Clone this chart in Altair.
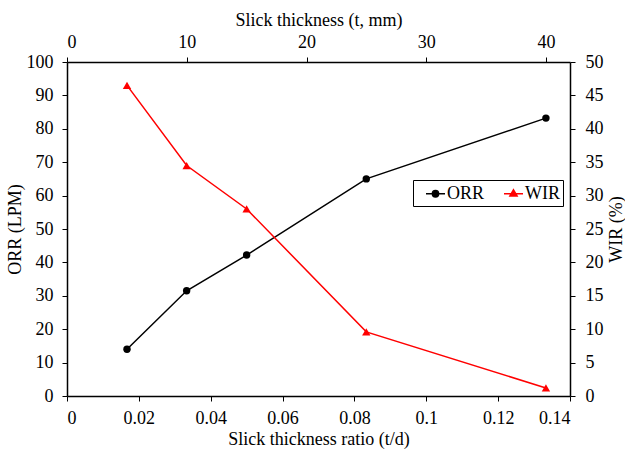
import altair as alt
import pandas as pd

thickness_mm = [5, 10, 15, 25, 40]
ratio = [0.0167, 0.0333, 0.05, 0.0833, 0.1333]
orr = [14.0, 31.5, 42.2, 65.0, 83.2]
wir = [46.5, 34.5, 28.0, 9.6, 1.2]
series = ["ORR", "WIR"]
colors = ["black", "red"]
x_ticks = [0, 0.02, 0.04, 0.06, 0.08, 0.1, 0.12, 0.14]
top_ticks = [0, 10, 20, 30, 40]
left_ticks = [0, 10, 20, 30, 40, 50, 60, 70, 80, 90, 100]
right_ticks = [0, 5, 10, 15, 20, 25, 30, 35, 40, 45, 50]

df_orr = pd.DataFrame({"ratio": ratio, "value": orr, "series": "ORR"})
df_wir = pd.DataFrame({"ratio": ratio, "value": wir, "series": "WIR"})
df_top = pd.DataFrame({"t": thickness_mm, "value": orr})
df_leg = pd.concat([df_orr, df_wir], ignore_index=True)

FONT = "Liberation Serif"
ax = dict(labelFont=FONT, titleFont=FONT, labelFontSize=18, titleFontSize=18,
          labelColor="black", titleColor="black", domainColor="black",
          tickColor="black", grid=False, tickSize=5, titleFontWeight="normal",
          domainWidth=1.5, tickWidth=1)

xs = alt.Scale(domain=[0, 0.14], nice=False)
ys_l = alt.Scale(domain=[0, 100], nice=False)
ys_r = alt.Scale(domain=[0, 50], nice=False)

orr_x = alt.X("ratio:Q", scale=xs,
              axis=alt.Axis(values=x_ticks, format="~g", title="Slick thickness ratio (t/d)",
                            orient="bottom", labelPadding=8, titlePadding=3, **ax))
orr_y = alt.Y("value:Q", scale=ys_l,
              axis=alt.Axis(values=left_ticks, title="ORR (LPM)", orient="left",
                            labelPadding=9, titlePadding=2, **ax))

orr_line = alt.Chart(df_orr).mark_line(color="black", strokeWidth=1.5).encode(x=orr_x, y=orr_y)
orr_pts = alt.Chart(df_orr).mark_point(filled=True, shape="circle", size=55, color="black",
                                       opacity=1).encode(x=orr_x, y=orr_y)

orr_path = "M-1,0L1,0M0.33,0A0.33,0.33,0,1,1,-0.33,0A0.33,0.33,0,1,1,0.33,0Z"
wir_path = "M-1,0L1,0M0,-0.42L0.38,0.24L-0.38,0.24Z"

leg = alt.Legend(title=None, orient="none", legendX=346, legendY=118, direction="horizontal",
                 strokeColor="black", padding=3, labelFont=FONT, labelFontSize=18,
                 labelColor="black", symbolSize=361, symbolStrokeWidth=1.5,
                 symbolOpacity=1, columnPadding=9, labelOffset=1, symbolOffset=9)

legend_pts = alt.Chart(df_leg).mark_point(filled=True, opacity=0, size=361).encode(
    x=orr_x, y=orr_y,
    fill=alt.Fill("series:N", scale=alt.Scale(domain=series, range=colors), legend=leg),
    stroke=alt.Stroke("series:N", scale=alt.Scale(domain=series, range=colors), legend=leg),
    shape=alt.Shape("series:N", scale=alt.Scale(domain=series, range=[orr_path, wir_path]), legend=leg),
)

orr_layer = alt.layer(orr_line, orr_pts, legend_pts)

wir_x = alt.X("ratio:Q", scale=xs, axis=None)
wir_y = alt.Y("value:Q", scale=ys_r,
              axis=alt.Axis(values=right_ticks, title="WIR (%)", orient="right",
                            labelPadding=10, titlePadding=4, titleAngle=270,
                            titleBaseline="top", **ax))
wir_line = alt.Chart(df_wir).mark_line(color="red", strokeWidth=1.5).encode(x=wir_x, y=wir_y)
wir_pts = alt.Chart(df_wir).mark_point(filled=True, shape="triangle-up", size=70, color="red",
                                       opacity=1).encode(x=wir_x, y=wir_y)
wir_layer = alt.layer(wir_line, wir_pts)

top_layer = alt.Chart(df_top).mark_point(opacity=0).encode(
    x=alt.X("t:Q", scale=alt.Scale(domain=[0, 42], nice=False),
            axis=alt.Axis(values=top_ticks, title="Slick thickness (t, mm)", orient="top",
                          labelPadding=6, titlePadding=4, **ax)),
    y=alt.Y("value:Q", scale=ys_l, axis=None),
)

chart = alt.layer(orr_layer, wir_layer, top_layer).resolve_scale(
    x="independent", y="independent"
).properties(
    width=503, height=334,
    autosize=alt.AutoSizeParams(type="none"),
    padding={"left": 67, "top": 62, "right": 55, "bottom": 57},
    background="white",
).configure_view(stroke=None)

chart.save("out.html", embed_options={"renderer": "svg", "actions": False})
